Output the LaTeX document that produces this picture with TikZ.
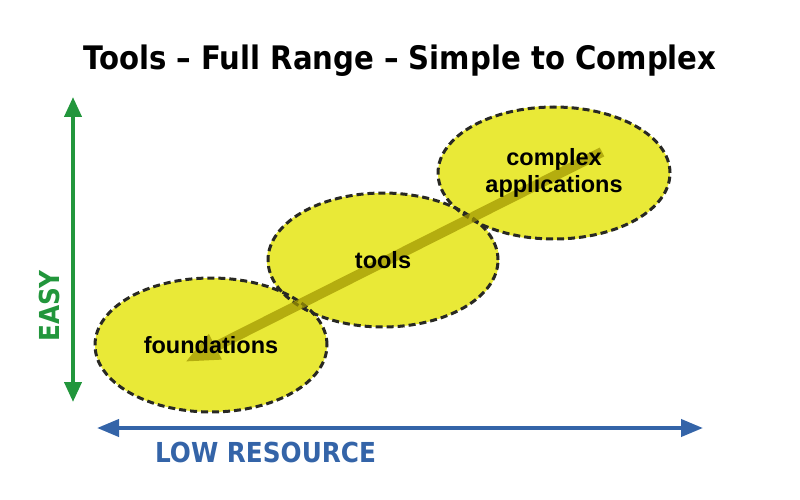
\documentclass[tikz,border=0pt]{standalone}
\usepackage{fontspec}
\usetikzlibrary{arrows.meta,shapes.geometric}
\newfontfamily\condfont{DejaVu Sans Condensed}
\newfontfamily\arialfont{Liberation Sans}
\definecolor{ellfill}{RGB}{233,233,55}
\definecolor{ellborder}{RGB}{40,40,35}
\definecolor{easygreen}{RGB}{34,150,60}
\definecolor{resblue}{RGB}{52,100,168}
\definecolor{flowolive}{RGB}{160,150,0}
\tikzset{
  bubble/.style={ellipse, fill=ellfill, minimum width=232pt, minimum height=134pt, inner sep=0pt},
  bubbletext/.style={inner sep=0pt, font=\arialfont\bfseries\fontsize{23.5}{27}\selectfont, align=center, text=black},
  bubbleborder/.style={draw=ellborder, line width=3pt, dash pattern=on 7pt off 4pt},
  axisgreen/.style={draw=easygreen, line width=4pt, {Triangle[width=17pt,length=20pt]}-{Triangle[width=17pt,length=20pt]}},
  axisblue/.style={draw=resblue, line width=4pt, {Triangle[width=17pt,length=22pt]}-{Triangle[width=17pt,length=22pt]}},
  flowarrow/.style={draw=flowolive, line width=10pt, -{Triangle[width=26pt,length=34pt]}},
}
\begin{document}
\begin{tikzpicture}[x=1pt,y=-1pt]
\useasboundingbox (0,0) rectangle (800,500);
% title
\node[anchor=base, inner sep=0pt, font=\condfont\bfseries\fontsize{32.4}{38}\selectfont] (title) at (400,70) {Tools – Full Range – Simple to Complex};
% axes
\coordinate (gtop) at (73,97);
\coordinate (gbot) at (73,402);
\draw[axisgreen] (gbot) -- (gtop);
\node[anchor=base, rotate=90, inner sep=0pt, text=easygreen, font=\condfont\bfseries\fontsize{27.5}{30}\selectfont] (easy) at (59,306) {EASY};
\coordinate (bleft) at (97,428);
\coordinate (bright) at (703,428);
\draw[axisblue] (bleft) -- (bright);
\node[anchor=base west, inner sep=0pt, text=resblue, font=\condfont\bfseries\fontsize{27.5}{30}\selectfont] (low) at (155,462) {LOW RESOURCE};
% bubbles
\node[bubble] (found) at (211,345) {};
\node[bubble] (tools) at (383,260) {};
\node[bubble] (cplx) at (554,173) {};
\draw[bubbleborder] (found.center) ellipse [x radius=116pt, y radius=67pt];
\draw[bubbleborder] (tools.center) ellipse [x radius=115pt, y radius=67pt];
\draw[bubbleborder] (cplx.center) ellipse [x radius=116pt, y radius=66pt];
% flow arrow
\coordinate (ftail) at (602,152);
\coordinate (fhead) at (185,362);
\begin{scope}[transparency group, opacity=0.72]
\draw[flowarrow] (ftail) -- (fhead);
\end{scope}
% labels
\node[bubbletext] (foundlabel) at (found.center) {foundations};
\node[bubbletext] (toolslabel) at (tools.center) {tools};
\node[bubbletext] (cplxlabel) at (cplx.center) {complex\\applications};
\end{tikzpicture}
\end{document}
